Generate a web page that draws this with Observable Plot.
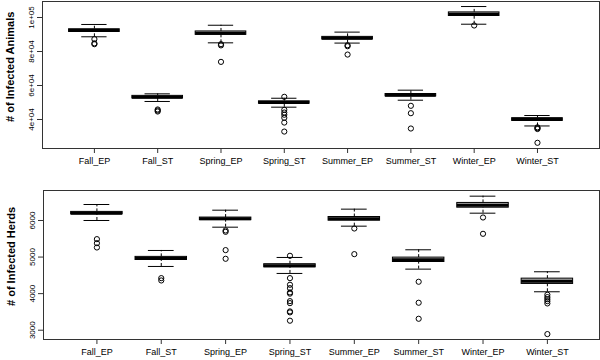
<!DOCTYPE html>
<html>
<head>
<meta charset="utf-8">
<script src="https://cdn.jsdelivr.net/npm/d3@7"></script>
<script src="https://cdn.jsdelivr.net/npm/@observablehq/plot@0.6"></script>
<style>
  html, body { margin: 0; padding: 0; background: #fff; }
  #chart { width: 600px; height: 360px; font-family: "Liberation Sans", Arial, sans-serif; }
  #chart svg { display: block; }
</style>
</head>
<body>
<div id="chart"></div>
<script>
const categories = ["Fall_EP","Fall_ST","Spring_EP","Spring_ST","Summer_EP","Summer_ST","Winter_EP","Winter_ST"];

// Top panel: # of Infected Animals
const animalsTitle = "# of Infected Animals";
const animalsTicks = [40000, 60000, 80000, 100000];
const animalsTickLabels = ["4e+04", "6e+04", "8e+04", "1e+05"];
const animalsMedian = [92350, 53150, 90750, 50000, 87850, 54300, 101950, 40000];
const animalsQ1 = [91500, 52400, 89800, 49300, 87100, 53600, 100900, 39200];
const animalsQ3 = [93100, 53900, 91800, 50700, 88600, 55000, 103000, 40800];
const animalsLo = [88650, 50600, 85100, 47250, 84950, 51350, 96050, 36200];
const animalsHi = [95900, 55100, 95450, 52500, 91400, 57250, 106450, 42350];
const animalsOut = [
  [87300, 84800, 84300],
  [45900, 45300, 44700],
  [84300, 83600, 73900],
  [53350, 45700, 44100, 42800, 41000, 38200, 32900],
  [83700, 83100, 78200],
  [48050, 43700, 34700],
  [95300],
  [35400, 34900, 34400, 26300]
];

// Bottom panel: # of Infected Herds
const herdsTitle = "# of Infected Herds";
const herdsTicks = [3000, 4000, 5000, 6000];
const herdsTickLabels = ["3000", "4000", "5000", "6000"];
const herdsMedian = [6200, 4962, 6046, 4762, 6046, 4926, 6419, 4342];
const herdsQ1 = [6170, 4920, 6010, 4720, 5995, 4865, 6350, 4265];
const herdsQ3 = [6235, 5005, 6080, 4805, 6095, 4985, 6480, 4410];
const herdsLo = [6000, 4743, 5817, 4552, 5845, 4670, 6200, 4051];
const herdsHi = [6437, 5180, 6282, 4989, 6310, 5199, 6665, 4598];
const herdsOut = [
  [5490, 5380, 5262],
  [4424, 4360],
  [5727, 5690, 5190, 4953],
  [5035, 4424, 4243, 4150, 4033, 4000, 3795, 3740, 3514, 3487, 3260],
  [5781, 5080],
  [4325, 3751, 3313],
  [6082, 5636],
  [3970, 3905, 3850, 3795, 3732, 2894]
];

function panel({title, titleY, ticks, tickLabels, median, q1, q3, lo, hi, out, xDomain, yDomain, margins}) {
  const rows = categories.map((c, i) => ({
    pos: i + 1, median: median[i], q1: q1[i], q3: q3[i], lo: lo[i], hi: hi[i]
  }));
  const outliers = categories.flatMap((c, i) => out[i].map(v => ({pos: i + 1, v})));
  const bw = 0.4, cw = 0.2;
  return Plot.plot({
    width: 600,
    height: 180,
    ...margins,
    style: {fontFamily: '"Liberation Sans", Arial, sans-serif', background: "#fff", color: "#000"},
    x: {domain: xDomain, axis: null},
    y: {domain: yDomain, axis: null},
    marks: [
      Plot.ruleX(rows, {x: "pos", y1: "q3", y2: "hi", stroke: "#000", strokeDasharray: "3,2"}),
      Plot.ruleX(rows, {x: "pos", y1: "lo", y2: "q1", stroke: "#000", strokeDasharray: "3,2"}),
      Plot.ruleY(rows, {y: "hi", x1: d => d.pos - cw, x2: d => d.pos + cw, stroke: "#000"}),
      Plot.ruleY(rows, {y: "lo", x1: d => d.pos - cw, x2: d => d.pos + cw, stroke: "#000"}),
      Plot.rect(rows, {x1: d => d.pos - bw, x2: d => d.pos + bw, y1: "q1", y2: "q3", fill: "#bdbdbd", stroke: "#000", strokeWidth: 1}),
      Plot.ruleY(rows, {y: "median", x1: d => d.pos - bw, x2: d => d.pos + bw, stroke: "#000", strokeWidth: 3}),
      Plot.dot(outliers, {x: "pos", y: "v", r: 2.6, stroke: "#000", fill: "none", strokeWidth: 1}),
      Plot.frame({stroke: "#333"}),
      Plot.axisX([1,2,3,4,5,6,7,8], {
        tickFormat: i => categories[i - 1], tickSize: 5, tickPadding: 4,
        fontSize: 9, stroke: "#333", fill: "#000", label: null
      }),
      Plot.axisY(ticks, {
        tickFormat: v => tickLabels[ticks.indexOf(v)], tickSize: 5, tickRotate: -90,
        fontSize: 8, stroke: "#333", fill: "#000", label: null
      }),
      Plot.text([title], {
        x: () => xDomain[0], y: () => titleY, text: d => d,
        dx: -32, rotate: -90, textAnchor: "middle", lineAnchor: "middle",
        fontSize: 11, fontWeight: "bold", fill: "#000", clip: false
      })
    ]
  });
}

const chart = document.getElementById("chart");
chart.append(panel({
  title: animalsTitle, titleY: 71000, ticks: animalsTicks, tickLabels: animalsTickLabels,
  median: animalsMedian, q1: animalsQ1, q3: animalsQ3, lo: animalsLo, hi: animalsHi, out: animalsOut,
  xDomain: [0.18, 8.98], yDomain: [22941, 109412],
  margins: {marginLeft: 42, marginRight: 1, marginTop: 1, marginBottom: 32}
}));
chart.append(panel({
  title: herdsTitle, titleY: 5016, ticks: herdsTicks, tickLabels: herdsTickLabels,
  median: herdsMedian, q1: herdsQ1, q3: herdsQ3, lo: herdsLo, hi: herdsHi, out: herdsOut,
  xDomain: [0.17, 8.81], yDomain: [2746, 6820],
  margins: {marginLeft: 43, marginRight: 1, marginTop: 10, marginBottom: 21}
}));
</script>
</body>
</html>
